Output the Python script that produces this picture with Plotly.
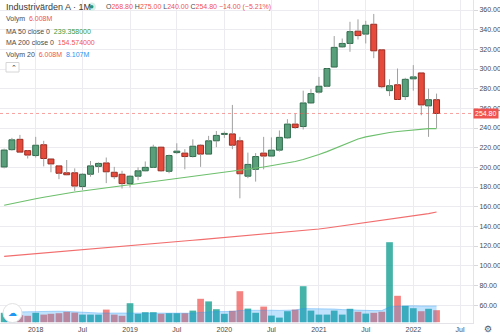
import pandas as pd
import plotly.graph_objects as go

# ---- monthly data, Sep 2017 .. Apr 2022 ----
months = pd.date_range("2017-09-01", "2022-04-01", freq="MS")

opens = [200.4, 218.0, 228.5, 217.0, 212.0, 223.0, 208.5, 201.5, 194.5, 194.5, 180.5, 193.0,
         201.0, 204.5, 195.0, 193.0, 183.5, 191.0, 196.5, 200.0, 220.5, 196.0, 215.0, 214.5,
         211.0, 222.5, 213.5, 227.0, 233.5, 234.0, 227.0, 191.0, 198.0, 214.5, 211.5, 217.5,
         230.0, 244.0, 241.5, 265.5, 276.5, 282.5, 302.0, 322.5, 326.0, 338.5, 335.5, 345.5,
         319.5, 278.0, 284.0, 272.0, 290.0, 296.0, 262.5, 268.8]
highs = [219.0, 230.0, 233.0, 217.5, 231.0, 227.0, 209.5, 202.5, 207.5, 199.0, 194.0, 206.5,
         205.0, 210.0, 200.5, 196.5, 192.0, 200.0, 206.0, 223.0, 221.0, 213.0, 224.5, 218.5,
         228.5, 223.5, 232.0, 237.0, 236.5, 263.5, 231.0, 215.0, 214.5, 231.0, 230.5, 237.5,
         249.0, 254.5, 278.0, 279.5, 292.0, 301.0, 333.5, 331.0, 348.0, 350.5, 349.0, 356.0,
         320.0, 289.5, 300.5, 291.0, 304.0, 297.0, 280.0, 275.0]
lows = [199.0, 217.0, 214.5, 209.0, 210.0, 201.0, 195.0, 188.0, 192.0, 176.0, 177.0, 190.5,
        194.5, 184.0, 188.0, 178.5, 179.5, 187.0, 196.0, 199.5, 195.5, 194.0, 213.5, 198.0,
        210.0, 200.5, 213.0, 220.5, 230.0, 218.5, 168.5, 189.0, 185.5, 198.0, 211.0, 216.0,
        229.0, 239.0, 238.5, 264.5, 275.0, 281.5, 301.0, 321.5, 317.5, 330.0, 326.0, 311.0,
        280.5, 272.5, 268.5, 268.5, 278.0, 253.0, 231.0, 240.0]
closes = [217.6, 228.0, 215.5, 212.5, 222.5, 209.0, 203.5, 194.0, 192.5, 181.0, 193.0, 201.5,
          204.0, 195.5, 190.5, 183.5, 191.0, 196.5, 200.0, 220.5, 196.5, 212.0, 216.5, 211.0,
          221.5, 213.5, 227.0, 232.5, 234.5, 222.5, 193.5, 203.0, 211.0, 211.5, 217.5, 230.5,
          244.0, 240.5, 265.5, 275.0, 282.5, 300.5, 322.0, 326.0, 338.0, 334.0, 344.5, 318.5,
          282.0, 283.0, 269.0, 289.5, 292.0, 263.5, 268.8, 254.8]
volume_m = [4.7, 4.5, 3.5, 3.2, 4.7, 3.8, 4.2, 4.5, 5.2, 4.8, 3.8, 3.8,
            3.8, 6.3, 3.8, 3.2, 9.5, 4.2, 5.0, 5.0, 4.2, 4.5, 4.5, 4.5,
            5.8, 11.7, 10.4, 6.5, 4.2, 5.7, 15.5, 6.8, 4.7, 7.8, 3.3, 2.3,
            5.5, 6.3, 18.0, 5.8, 3.8, 3.8, 5.8, 3.8, 6.7, 5.2, 4.3, 4.7,
            5.2, 40.0, 13.2, 8.2, 7.0, 5.5, 6.7, 6.008]
ma50 = [161.5, 163.3, 165.0, 166.6, 168.1, 169.6, 171.0, 172.4, 173.7, 174.9, 176.0, 177.1,
        178.2, 179.3, 180.4, 181.4, 182.5, 183.6, 184.7, 185.8, 186.8, 187.9, 189.1, 190.2,
        191.3, 192.4, 193.5, 194.5, 195.5, 196.4, 197.3, 198.3, 199.3, 200.3, 201.6, 202.9,
        204.2, 206.0, 208.0, 210.3, 213.0, 216.0, 219.0, 222.5, 226.0, 228.8, 231.0, 232.6,
        234.0, 235.5, 236.4, 237.3, 238.0, 238.8, 239.4, 239.358]
ma200 = [109.5, 110.2, 110.9, 111.5, 112.2, 112.9, 113.6, 114.3, 114.9, 115.6, 116.3, 117.0,
         117.7, 118.4, 119.0, 119.7, 120.4, 121.1, 121.8, 122.4, 123.1, 123.8, 124.5, 125.2,
         125.9, 126.5, 127.2, 127.9, 128.6, 129.3, 130.0, 130.6, 131.3, 132.0, 132.6, 133.3,
         134.0, 134.8, 135.6, 136.5, 137.4, 138.4, 139.4, 140.5, 141.6, 142.7, 143.8, 145.0,
         146.1, 147.2, 148.3, 149.4, 150.5, 151.7, 153.0, 154.574]
vol_ma20 = [5.0, 5.1, 5.2, 5.3, 5.4, 5.5, 5.5, 5.5, 5.4, 5.3, 5.0, 4.8,
            4.6, 4.6, 4.5, 4.4, 4.6, 4.5, 4.5, 4.5, 4.5, 4.5, 4.4, 4.4,
            4.5, 4.9, 5.2, 5.3, 5.3, 5.4, 5.9, 6.0, 6.0, 6.1, 6.0, 5.9,
            6.0, 6.1, 6.8, 6.8, 6.7, 6.6, 6.6, 6.3, 6.1, 6.1, 6.0, 5.8,
            5.8, 7.6, 8.0, 8.2, 8.2, 8.1, 8.2, 8.107]

tick_dates = ["2018-01-01", "2018-07-01", "2019-01-01", "2019-07-01", "2020-01-01",
              "2020-07-01", "2021-01-01", "2021-07-01", "2022-01-01", "2022-07-01"]
tick_text = ["2018", "Jul", "2019", "Jul", "2020", "Jul", "2021", "Jul", "2022", "Jul"]

# ---- colours ----
UP_FILL, UP_LINE = "#5a9f7b", "#2e6b4b"
DN_FILL, DN_LINE = "#e64a3b", "#9a2a20"
WICK = "#a0a0a0"
TXT = "#4a4a4a"
RED_TXT = "#ef5350"
FONT = "Liberation Sans"

# ---- plot area geometry (px) ----
W_PX, H_PX = 473, 323
PX_PER_DAY = 0.25845
x_start = pd.Timestamp("2018-01-01") - pd.Timedelta(days=35.7 / PX_PER_DAY)
x_end = x_start + pd.Timedelta(days=W_PX / PX_PER_DAY)
DAY_MS = 86400000

up = [c >= o for o, c in zip(opens, closes)]

fig = go.Figure()

# wicks (upper and lower segments, so they never cross the bodies)
wx, wy = [], []
for d, o, h, l, c in zip(months, opens, highs, lows, closes):
    top, bot = max(o, c), min(o, c)
    wx += [d, d, None, d, d, None]
    wy += [h, top, None, bot, l, None]
fig.add_trace(go.Scatter(x=wx, y=wy, mode="lines", line=dict(color=WICK, width=1),
                         hoverinfo="skip", showlegend=False))

# candle bodies
body_base = [min(o, c) for o, c in zip(opens, closes)]
body_h = [max(abs(c - o), 0.6) for o, c in zip(opens, closes)]
fig.add_trace(go.Bar(
    x=months, y=body_h, base=body_base, width=23 * DAY_MS,
    marker=dict(color=[UP_FILL if u else DN_FILL for u in up],
                line=dict(color=[UP_LINE if u else DN_LINE for u in up], width=1)),
    showlegend=False, hoverinfo="skip"))

# moving averages
fig.add_trace(go.Scatter(x=months, y=ma50, mode="lines",
                         line=dict(color="#6cbf6c", width=1.1), showlegend=False))
fig.add_trace(go.Scatter(x=months, y=ma200, mode="lines",
                         line=dict(color="#f26d6d", width=1.1), showlegend=False))

# volume pane (overlaid axis)
fig.add_trace(go.Bar(
    x=months, y=volume_m, yaxis="y2", width=26 * DAY_MS,
    marker=dict(color=["rgba(38,166,154,0.85)" if u else "rgba(239,83,80,0.72)" for u in up],
                line=dict(width=0)),
    showlegend=False, hoverinfo="skip"))
fig.add_trace(go.Scatter(
    x=months, y=vol_ma20, yaxis="y2", mode="lines", line=dict(color="rgba(33,150,243,0.35)", width=1),
    fill="tozeroy", fillcolor="rgba(33,150,243,0.28)", showlegend=False, hoverinfo="skip"))

last_close = closes[-1]


def px(x):
    return x / W_PX


def py(y):
    return 1 - y / H_PX


ann = []
def label(x, y, text, size=7, color=TXT):
    ann.append(dict(xref="paper", yref="paper", x=px(x), y=py(y), text=text, showarrow=False,
                    xanchor="left", yanchor="middle", font=dict(family=FONT, size=size, color=color)))


def col(t, c):
    return f"<span style='color:{c}'>{t}</span>"


label(4, 7, "Industrivärden A · 1M", size=9, color="#3a3a3a")
ohlc = ("O" + col("268.80", RED_TXT) + " H" + col("275.00", RED_TXT) + " L" + col("240.00", RED_TXT)
        + " C" + col("254.80", RED_TXT) + " " + col("−14.00 (−5.21%)", RED_TXT))
label(104, 7, ohlc, size=7)
label(4, 19, "Volym  " + col("6.008M", RED_TXT))
label(4, 31, "MA 50 close 0  " + col("239.358000", "#3a9a3a"))
label(4, 43, "MA 200 close 0  " + col("154.574000", RED_TXT))
label(4, 55, "Volym 20  " + col("6.008M", RED_TXT) + "  " + col("8.107M", "#2196f3"))
label(9, 67.3, "⌃", size=7, color="#333333")
# last price badge
ann.append(dict(xref="paper", yref="y", x=1.0, y=last_close, text="254.80", showarrow=False,
                xanchor="left", yanchor="middle", bgcolor="#ef5350", borderpad=1,
                font=dict(family=FONT, size=7, color="white")))
# settings gear and logo
ann.append(dict(xref="paper", yref="paper", x=(488) / W_PX, y=py(329), text="⚙", showarrow=False,
                xanchor="center", yanchor="middle", font=dict(family="DejaVu Sans", size=9, color="#555")))
ann.append(dict(xref="paper", yref="paper", x=px(12.5), y=py(313), text="☁", showarrow=False,
                xanchor="center", yanchor="middle", font=dict(family="DejaVu Sans", size=9, color="#2196f3")))

shapes = [
    # dotted last-price line
    dict(type="line", xref="paper", yref="y", x0=0, x1=1, y0=last_close, y1=last_close,
         line=dict(color="rgba(239,83,80,0.55)", width=1, dash="dot")),
    # legend collapse button
    dict(type="rect", xref="paper", yref="paper", x0=px(6), x1=px(19), y0=py(62.5), y1=py(72),
         line=dict(color="#d6d6d6", width=1), fillcolor="white"),
    # symbol status dot
    dict(type="circle", xref="paper", yref="paper", x0=px(87.5), x1=px(96), y0=py(2.5), y1=py(11),
         line=dict(width=0), fillcolor="#d7efe7"),
    dict(type="circle", xref="paper", yref="paper", x0=px(90), x1=px(93.5), y0=py(5), y1=py(8.5),
         line=dict(width=0), fillcolor="#1f9a7f"),
    # logo circle
    dict(type="circle", xref="paper", yref="paper", x0=px(3), x1=px(22), y0=py(303.5), y1=py(322.5),
         line=dict(color="#e2e2e2", width=1), fillcolor="white"),
]

fig.update_layout(
    width=500, height=335,
    margin=dict(l=0, r=500 - W_PX, t=0, b=335 - H_PX),
    paper_bgcolor="white", plot_bgcolor="white",
    barmode="overlay", showlegend=False,
    font=dict(family=FONT, size=7, color=TXT),
    annotations=ann, shapes=shapes,
    xaxis=dict(type="date", range=[x_start, x_end], tickvals=tick_dates, ticktext=tick_text,
               showgrid=True, gridcolor="#ececf0", gridwidth=1, zeroline=False,
               showline=True, linecolor="#e3e3e8", ticks="", automargin=False,
               tickfont=dict(family=FONT, size=7, color=TXT), fixedrange=True),
    yaxis=dict(side="right", range=[41.75, 370.17], dtick=20, tick0=0, tickformat=".2f",
               showgrid=True, gridcolor="#ececf0", gridwidth=1, zeroline=False,
               showline=True, linecolor="#e3e3e8", ticks="outside", ticklen=4, tickcolor="#d8d8dc",
               automargin=False, tickfont=dict(family=FONT, size=7, color=TXT)),
    yaxis2=dict(overlaying="y", range=[-0.4, 161.1], visible=False, showgrid=False),
)

fig.write_html("out.html")
